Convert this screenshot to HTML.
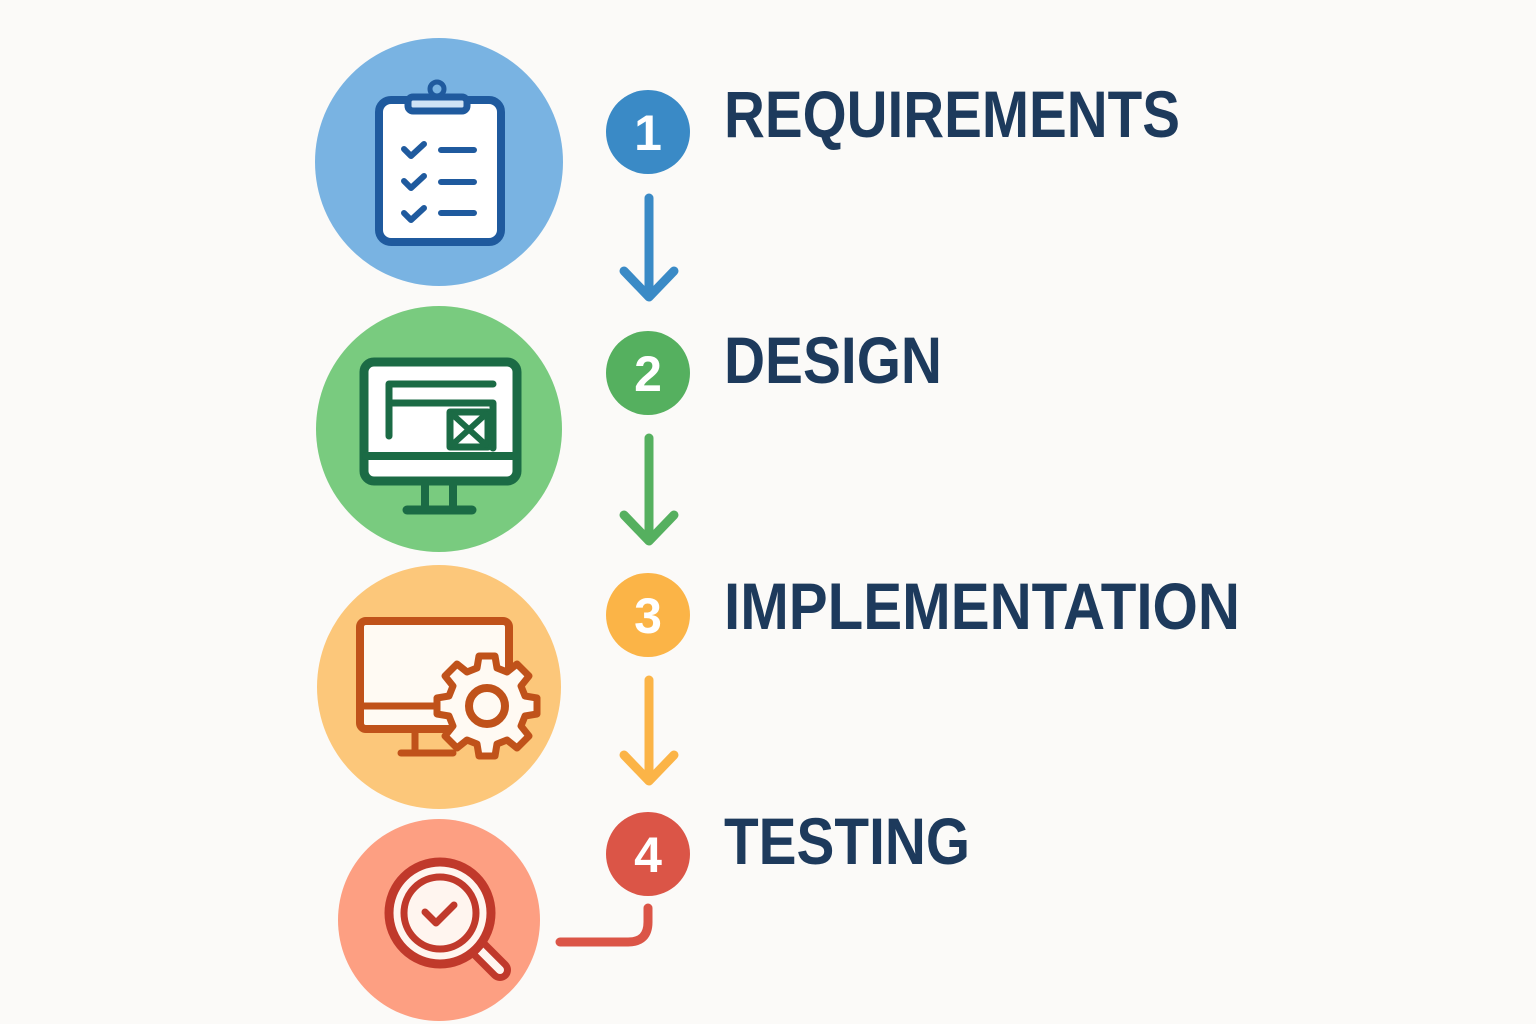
<!DOCTYPE html>
<html><head><meta charset="utf-8"><style>html,body{margin:0;padding:0;background:#fbfaf8}svg{display:block}</style></head>
<body>
<svg width="1536" height="1024" viewBox="0 0 1536 1024" xmlns="http://www.w3.org/2000/svg">
<rect width="1536" height="1024" fill="#fbfaf8"/>
<!-- big circles -->
<circle cx="439" cy="162" r="124" fill="#79b3e2"/>
<circle cx="439" cy="429" r="123" fill="#79cb7f"/>
<circle cx="439" cy="687" r="122" fill="#fcc77a"/>
<circle cx="439" cy="920" r="101" fill="#fd9f82"/>

<!-- clipboard -->
<g stroke="#1f5a9e" stroke-linecap="round" stroke-linejoin="round">
<rect x="379" y="100" width="122" height="142" rx="12" fill="#fff" stroke-width="8"/>
<rect x="408" y="97" width="59" height="14" rx="5" fill="#cfe3f5" stroke-width="7"/>
<circle cx="437" cy="89" r="7" fill="#79b3e2" stroke-width="5"/>
<g fill="none" stroke-width="6">
<path d="M404 149l7 7 13-12M404 181l7 7 13-12M404 213l7 7 13-12"/>
<path d="M441 150h33M441 182h33M441 213h33"/>
</g></g>

<!-- green monitor -->
<g stroke="#1b6b45" stroke-linecap="round" stroke-linejoin="round" fill="none">
<rect x="364" y="362" width="153" height="119" rx="10" fill="#fff" stroke-width="9"/>
<path d="M366 456h150" stroke-width="8"/>
<path d="M389 384h104M389 384v52M389 403h104v45" stroke-width="7"/>
<rect x="450" y="412" width="38" height="35" stroke-width="7"/>
<path d="M452 414l34 31M486 414l-34 31" stroke-width="6"/>
<path d="M425 483v25M453 483v25" stroke-width="8"/>
<path d="M407 510h65" stroke-width="9"/>
</g>

<!-- orange monitor + gear -->
<g stroke="#c0521a" stroke-linecap="round" stroke-linejoin="round" fill="none">
<rect x="360" y="621" width="149" height="108" rx="6" fill="#fffaf3" stroke-width="8"/>
<path d="M362 706h80" stroke-width="7"/>
<path d="M415 730v22M401 753h52" stroke-width="7"/>
<g transform="translate(487 706)">
<path fill="#fffaf3" stroke-width="7" d="M-8,-50 L8,-50 L10,-38 L20,-34 L30,-42 L42,-30 L34,-20 L38,-10 L50,-8 L50,8 L38,10 L34,20 L42,30 L30,42 L20,34 L10,38 L8,50 L-8,50 L-10,38 L-20,34 L-30,42 L-42,30 L-34,20 L-38,10 L-50,8 L-50,-8 L-38,-10 L-34,-20 L-42,-30 L-30,-42 L-20,-34 L-10,-38 Z"/>
<circle r="18" stroke-width="8" fill="#fffaf3"/>
</g></g>

<!-- magnifier -->
<g stroke="#c0392b" stroke-linecap="round" stroke-linejoin="round" fill="none">
<path d="M478 948l22 22" stroke="#c0392b" stroke-width="22"/>
<path d="M478 948l22 22" stroke="#fff5ef" stroke-width="8"/>
<circle cx="440" cy="913" r="51" fill="#fff5ef" stroke-width="9"/>
<circle cx="440" cy="913" r="36" stroke-width="7"/>
<path d="M425 912l11 11 18-18" stroke-width="7"/>
</g>

<!-- badges -->
<g font-family="Liberation Sans, sans-serif" font-weight="bold" font-size="50" fill="#fff" text-anchor="middle">
<circle cx="648" cy="132" r="42" fill="#3a8ac6"/><text x="648" y="150">1</text>
<circle cx="648" cy="373" r="42" fill="#55b05f"/><text x="648" y="391">2</text>
<circle cx="648" cy="615" r="42" fill="#fbb447"/><text x="648" y="633">3</text>
<circle cx="648" cy="854" r="42" fill="#db5547"/><text x="648" y="872">4</text>
</g>

<!-- arrows -->
<g fill="none" stroke-width="9" stroke-linecap="round" stroke-linejoin="round">
<path d="M649 198v98M624 271l25 26 25-26" stroke="#3a8ac6"/>
<path d="M649 438v102M624 515l25 26 25-26" stroke="#55b05f"/>
<path d="M649 680v100M624 755l25 26 25-26" stroke="#fbb447"/>
<path d="M648 908v14q0 20-20 20h-68" stroke="#db5547"/>
</g>

<!-- labels -->
<g font-family="Liberation Sans, sans-serif" font-weight="bold" font-size="66" fill="#1d3a5c">
<text x="724" y="137" textLength="456" lengthAdjust="spacingAndGlyphs">REQUIREMENTS</text>
<text x="724" y="383" textLength="218" lengthAdjust="spacingAndGlyphs">DESIGN</text>
<text x="724" y="629" textLength="516" lengthAdjust="spacingAndGlyphs">IMPLEMENTATION</text>
<text x="724" y="864" textLength="246" lengthAdjust="spacingAndGlyphs">TESTING</text>
</g>
</svg>
</body></html>
